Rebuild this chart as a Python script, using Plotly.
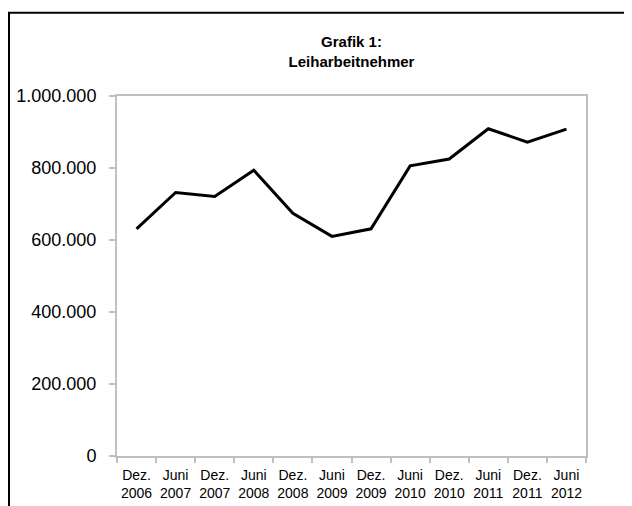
import plotly.graph_objects as go

categories = ["Dez.<br>2006", "Juni<br>2007", "Dez.<br>2007", "Juni<br>2008", "Dez.<br>2008", "Juni<br>2009",
              "Dez.<br>2009", "Juni<br>2010", "Dez.<br>2010", "Juni<br>2011", "Dez.<br>2011", "Juni<br>2012"]
values = [631000, 732000, 721000, 794000, 674000, 610000, 631000, 806000, 825000, 909000, 872000, 908000]
y_ticks = [0, 200000, 400000, 600000, 800000, 1000000]
y_labels = ["0", "200.000", "400.000", "600.000", "800.000", "1.000.000"]

W, H = 624, 498
L, T = 109, 87.5
R = W - 578
B = H - 448.5
pw, ph = W - L - R, H - T - B

fig = go.Figure(go.Scatter(x=categories, y=values, mode="lines",
                           line=dict(color="black", width=3), hoverinfo="skip"))

def px_x(p):
    return (p - L) / pw

def px_y(p):
    return (H - B - p) / ph

fig.add_shape(type="rect", xref="paper", yref="paper",
              x0=px_x(1), x1=px_x(W + 20), y0=px_y(H + 20), y1=px_y(4),
              line=dict(color="black", width=2), layer="above")

fig.update_layout(
    width=W, height=H,
    margin=dict(l=L, r=R, t=T, b=B, autoexpand=False),
    paper_bgcolor="white", plot_bgcolor="white",
    showlegend=False,
    font=dict(family="Liberation Sans, Arial, sans-serif", color="black"),
    title=dict(text="<b>Grafik 1:<br>Leiharbeitnehmer</b>", x=0.5, xref="paper",
               xanchor="center", y=1 - 39 / H, yanchor="top",
               font=dict(size=15, color="black")),
)
fig.update_xaxes(type="category", tickson="boundaries", ticks="outside", ticklen=5,
                 tickcolor="#c0c0c0", tickwidth=2, showline=True, linecolor="#c0c0c0", linewidth=2,
                 mirror=True, showgrid=False, tickfont=dict(size=14, color="black"),
                 tickangle=0, automargin=False, ticklabelstandoff=5, range=[-0.5, 11.5])
fig.update_yaxes(range=[0, 1000000], tickvals=y_ticks, ticktext=y_labels, ticks="outside",
                 ticklen=6, tickcolor="#c0c0c0", tickwidth=2, showline=True, linecolor="#c0c0c0", linewidth=2,
                 mirror=True, showgrid=False, zeroline=False, automargin=False,
                 ticklabelstandoff=9, tickfont=dict(size=18, color="black"))

fig.write_html("out.html")
